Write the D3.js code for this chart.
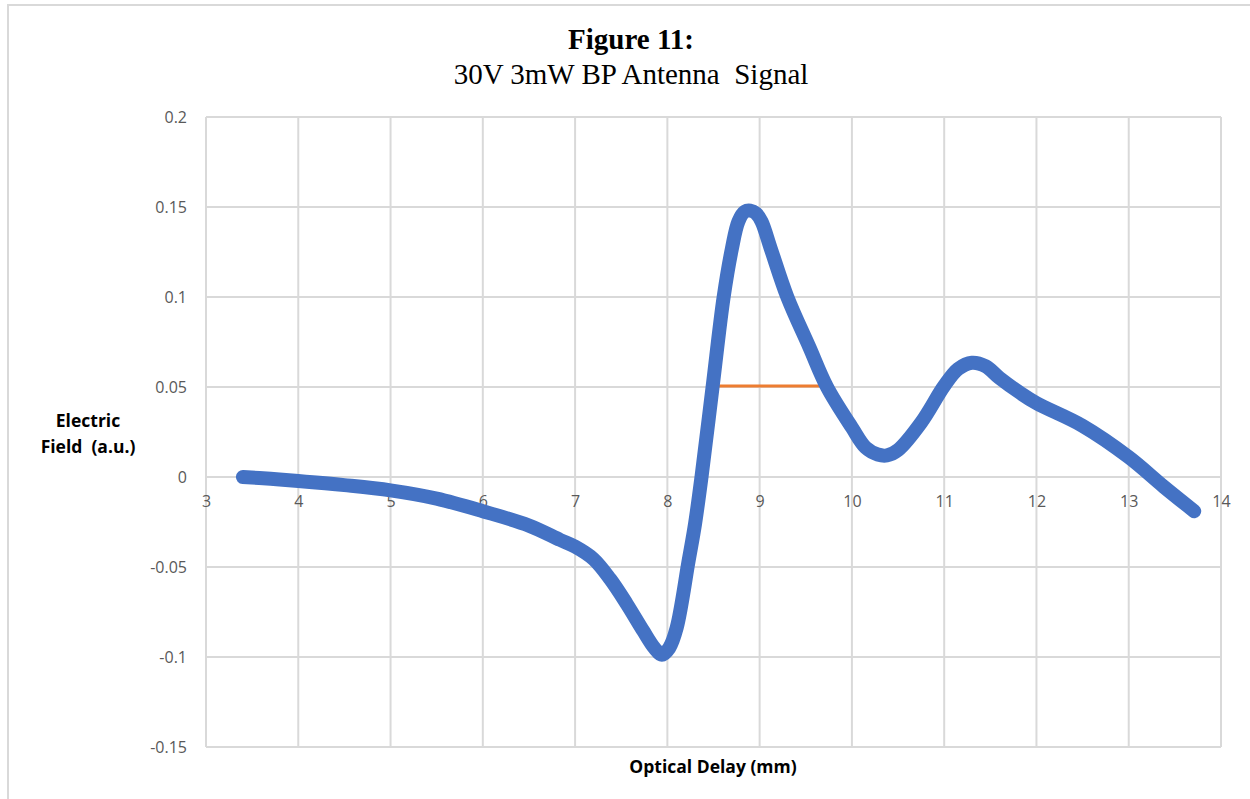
<!DOCTYPE html>
<html>
<head>
<meta charset="utf-8">
<script src="https://cdn.jsdelivr.net/npm/d3@7"></script>
<style>
  body { margin: 0; background: #fff; }
  .tick text { fill: #595959; font-family: "Open Sans", sans-serif; font-size: 16px; }
  .axisTitle { font-family: "Open Sans", sans-serif; font-weight: bold; font-size: 17.5px; fill: #000; }
</style>
</head>
<body>
<div class="chart"></div>
<script>
var svgWidth = 1250;
var svgHeight = 799;

// plot area in page pixels
var margin = { top: 117, right: 29, bottom: 52, left: 206 };
var width = 1221 - margin.left;
var height = 747 - margin.top;

// signal (optical delay in mm, field in a.u.)
var delay = [3.40, 3.70, 4.00, 4.50, 5.00, 5.50, 6.00, 6.50, 6.84, 7.00, 7.20, 7.38, 7.56, 7.74, 7.86, 7.94,
  8.02, 8.10, 8.23, 8.30, 8.37, 8.49, 8.61, 8.70, 8.77, 8.84, 8.90, 8.96, 9.02, 9.12, 9.30, 9.54, 9.73,
  10.00, 10.15, 10.28, 10.38, 10.50, 10.75, 11.00, 11.15, 11.30, 11.45, 11.60, 11.83, 12.00, 12.50, 13.00,
  13.38, 13.71];
var field = [0.000, -0.001, -0.0022, -0.0045, -0.0074, -0.012, -0.019, -0.027, -0.035, -0.0387, -0.0456, -0.0567, -0.0705, -0.0856, -0.095, -0.0988,
  -0.095, -0.084, -0.0467, -0.026, 0.000, 0.050, 0.100, 0.127, 0.142, 0.1475, 0.148, 0.1465, 0.142, 0.127, 0.100, 0.072, 0.050,
  0.0275, 0.0163, 0.0125, 0.012, 0.015, 0.0302, 0.0506, 0.060, 0.0635, 0.0615, 0.055, 0.0465, 0.041, 0.0284, 0.011,
  -0.0054, -0.019];

// horizontal marker line
var markX = [8.49, 9.73];
var markY = [0.0505, 0.0505];

var xTicks = [3, 4, 5, 6, 7, 8, 9, 10, 11, 12, 13, 14];
var yTicks = [0.2, 0.15, 0.1, 0.05, 0, -0.05, -0.1, -0.15];

var svg = d3.select(".chart")
  .append("svg")
  .attr("width", svgWidth)
  .attr("height", svgHeight);

// outer chart frame
svg.append("rect")
  .attr("x", 8).attr("y", 5)
  .attr("width", 1260).attr("height", 820)
  .attr("fill", "none")
  .attr("stroke", "#d9d9d9")
  .attr("stroke-width", 2);

var chart = svg.append("g")
  .attr("transform", "translate(" + margin.left + "," + margin.top + ")");

var xLinearScale = d3.scaleLinear().domain([3, 14]).range([0, width]);
var yLinearScale = d3.scaleLinear().domain([-0.15, 0.2]).range([height, 0]);

// gridlines
chart.append("g")
  .selectAll("line")
  .data(yTicks)
  .enter().append("line")
    .attr("x1", 0).attr("x2", width)
    .attr("y1", function(d) { return yLinearScale(d); })
    .attr("y2", function(d) { return yLinearScale(d); })
    .attr("stroke", "#d9d9d9")
    .attr("stroke-width", 2);

chart.append("g")
  .selectAll("line")
  .data(xTicks)
  .enter().append("line")
    .attr("x1", function(d) { return xLinearScale(d); })
    .attr("x2", function(d) { return xLinearScale(d); })
    .attr("y1", 0).attr("y2", height)
    .attr("stroke", "#d9d9d9")
    .attr("stroke-width", 2);

// axes (labels only, lines come from the grid)
var bottomAxis = d3.axisBottom(xLinearScale).tickValues(xTicks).tickSize(0).tickPadding(19)
  .tickFormat(d3.format("d"));
var leftAxis = d3.axisLeft(yLinearScale).tickValues(yTicks).tickSize(0).tickPadding(19)
  .tickFormat(function(d) { return d === 0 ? "0" : String(d); });

var gx = chart.append("g")
  .attr("transform", "translate(0," + yLinearScale(0) + ")")
  .call(bottomAxis);
gx.select(".domain").remove();

var gy = chart.append("g").call(leftAxis);
gy.select(".domain").remove();

// marker line under the signal
chart.append("path")
  .datum(d3.range(markX.length))
  .attr("fill", "none")
  .attr("stroke", "#ed7d31")
  .attr("stroke-width", 3)
  .attr("d", d3.line()
    .x(function(i) { return xLinearScale(markX[i]); })
    .y(function(i) { return yLinearScale(markY[i]); }));

// the signal
chart.append("path")
  .datum(d3.range(delay.length))
  .attr("fill", "none")
  .attr("stroke", "#4472c4")
  .attr("stroke-width", 14)
  .attr("stroke-linecap", "round")
  .attr("stroke-linejoin", "round")
  .attr("d", d3.line()
    .curve(d3.curveCatmullRom.alpha(0.5))
    .x(function(i) { return xLinearScale(delay[i]); })
    .y(function(i) { return yLinearScale(field[i]); }));

// titles
svg.append("text")
  .attr("x", 631).attr("y", 49)
  .attr("text-anchor", "middle")
  .style("font-family", "'Liberation Serif', serif")
  .style("font-weight", "bold")
  .style("font-size", "29px")
  .text("Figure 11:");

svg.append("text")
  .attr("x", 631).attr("y", 84)
  .attr("text-anchor", "middle")
  .style("font-family", "'Liberation Serif', serif")
  .style("font-size", "29px")
  .style("white-space", "pre")
  .text("30V 3mW BP Antenna  Signal");

svg.append("text")
  .attr("class", "axisTitle")
  .attr("x", 88).attr("y", 427)
  .attr("text-anchor", "middle")
  .text("Electric");

svg.append("text")
  .attr("class", "axisTitle")
  .attr("x", 88).attr("y", 453)
  .attr("text-anchor", "middle")
  .style("white-space", "pre")
  .text("Field  (a.u.)");

svg.append("text")
  .attr("class", "axisTitle")
  .attr("x", 713).attr("y", 773)
  .attr("text-anchor", "middle")
  .text("Optical Delay (mm)");
</script>
</body>
</html>
